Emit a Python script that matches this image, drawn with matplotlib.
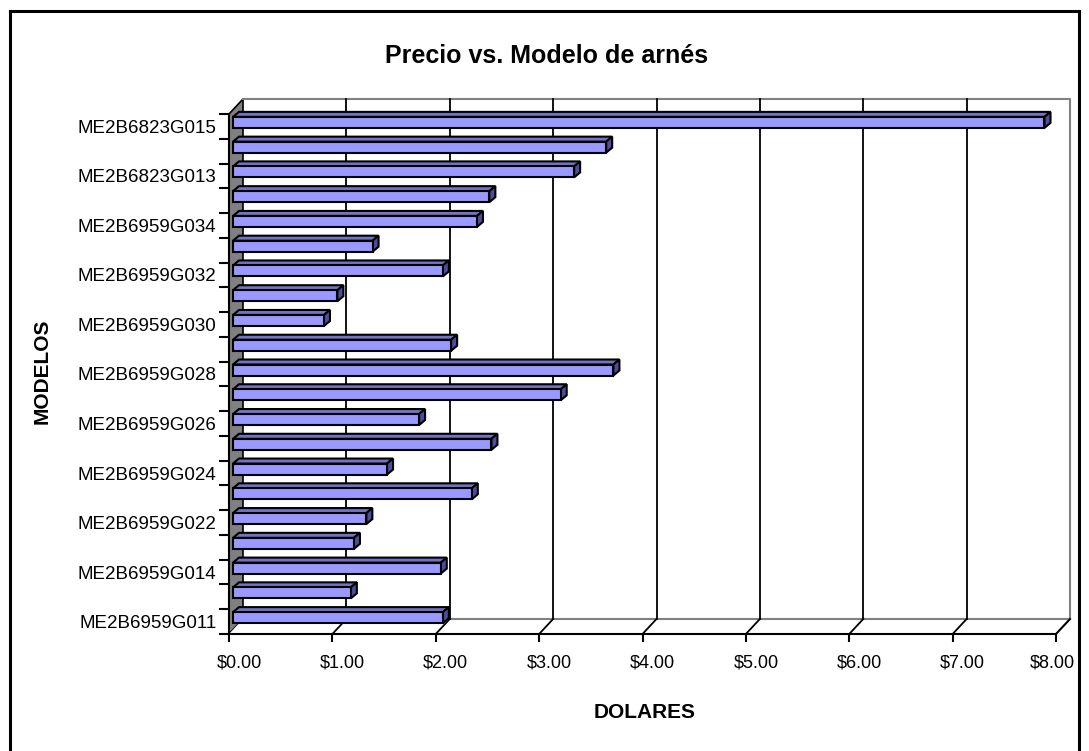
import matplotlib
matplotlib.use("Agg")
import matplotlib.pyplot as plt
from matplotlib.patches import Rectangle, Polygon
from matplotlib.lines import Line2D
from matplotlib.transforms import ScaledTranslation

# ---------------- data ----------------
models = ["ME2B6959G011", "ME2B6959G013", "ME2B6959G014", "ME2B6959G021",
          "ME2B6959G022", "ME2B6959G023", "ME2B6959G024", "ME2B6959G025",
          "ME2B6959G026", "ME2B6959G027", "ME2B6959G028", "ME2B6959G029",
          "ME2B6959G030", "ME2B6959G031", "ME2B6959G032", "ME2B6959G033",
          "ME2B6959G034", "ME2B6823G012", "ME2B6823G013", "ME2B6823G014",
          "ME2B6823G015"]
prices = [2.03, 1.14, 2.01, 1.17, 1.29, 2.31, 1.49, 2.50, 1.80, 3.17, 3.68,
          2.11, 0.88, 1.01, 2.03, 1.35, 2.36, 2.48, 3.30, 3.61, 7.85]
xticks = [0, 1, 2, 3, 4, 5, 6, 7, 8]
xticklabels = ["$0.00", "$1.00", "$2.00", "$3.00", "$4.00", "$5.00",
               "$6.00", "$7.00", "$8.00"]
title = "Precio vs. Modelo de arnés"
xlabel = "DOLARES"
ylabel = "MODELOS"

# ---------------- layout ----------------
W, H, DPI = 1089, 751, 100
plt.rcParams['font.family'] = ['Liberation Sans', 'DejaVu Sans']
fig = plt.figure(figsize=(W / DPI, H / DPI), dpi=DPI)

L, R, B, T = 229, 1056, 634, 114   # front plane in pixels (from top)
ax = fig.add_axes([L / W, 1 - B / H, (R - L) / W, (B - T) / H])
n = len(models)
xmin, xmax = 0, 8
ymin, ymax = -0.5, n - 0.5
ax.set_xlim(xmin, xmax)
ax.set_ylim(ymin, ymax)
for s in ax.spines.values():
    s.set_visible(False)
ax.patch.set_visible(False)

sx = (R - L) / (xmax - xmin)   # px per data unit
sy = (B - T) / (ymax - ymin)
DX, DY = 14 / sx, 15 / sy      # wall depth in data units

gray = "#808080"
# left wall
ax.add_patch(Polygon([(0, ymin), (0, ymax), (DX, ymax + DY), (DX, ymin + DY)],
                     closed=True, facecolor=gray, edgecolor="black", lw=1.2,
                     clip_on=False, zorder=1))
# floor
ax.add_patch(Polygon([(0, ymin), (xmax, ymin), (xmax + DX, ymin + DY), (DX, ymin + DY)],
                     closed=True, facecolor="white", edgecolor="none",
                     clip_on=False, zorder=1))
ax.add_line(Line2D([DX, xmax + DX], [ymin + DY, ymin + DY], color=gray, lw=1.5,
                   clip_on=False, zorder=1.5))
ax.add_line(Line2D([xmax, xmax + DX], [ymin, ymin + DY], color=gray, lw=1.5,
                   clip_on=False, zorder=1.5))
# back wall border (top + right)
ax.add_line(Line2D([DX, xmax + DX, xmax + DX], [ymax + DY, ymax + DY, ymin + DY],
                   color=gray, lw=1.5, clip_on=False, zorder=1.5))
# gridlines on back wall + floor lines
for xv in xticks[1:-1]:
    ax.add_line(Line2D([xv + DX, xv + DX], [ymin + DY, ymax + DY], color="black",
                       lw=1.3, clip_on=False, zorder=1.6))
for xv in xticks[1:]:
    ax.add_line(Line2D([xv, xv + DX], [ymin, ymin + DY], color="black",
                       lw=1.3, clip_on=False, zorder=1.6))
# front axis lines
ax.add_line(Line2D([xmin, xmax], [ymin, ymin], color="black", lw=1.5,
                   clip_on=False, zorder=5))
ax.add_line(Line2D([xmin, xmin], [ymin, ymax], color="black", lw=1.5,
                   clip_on=False, zorder=5))

# bars (pseudo 3D)
ox, oy = 4 / sx, 4.0 / sy
bdx, bdy = 6 / sx, 5.0 / sy
h = 11 / sy
front_c, top_c, side_c = "#9999FF", "#7373C6", "#4D4D99"
for i, v in enumerate(prices):
    yb = i - h / 2 + oy
    yt = i + h / 2 + oy
    ax.add_patch(Polygon([(ox, yt), (ox + v, yt), (ox + v + bdx, yt + bdy), (ox + bdx, yt + bdy)],
                         closed=True, facecolor=top_c, edgecolor="black", lw=1.5,
                         clip_on=False, zorder=3, joinstyle="miter"))
    ax.add_patch(Polygon([(ox + v, yb), (ox + v + bdx, yb + bdy), (ox + v + bdx, yt + bdy), (ox + v, yt)],
                         closed=True, facecolor=side_c, edgecolor="black", lw=1.5,
                         clip_on=False, zorder=3, joinstyle="miter"))
    ax.add_patch(Rectangle((ox, yb), v, h, facecolor=front_c, edgecolor="black",
                           lw=1.5, clip_on=False, zorder=4))

# ticks
ax.set_xticks(xticks)
ax.set_xticklabels(xticklabels, fontsize=13)
ax.tick_params(axis="x", direction="out", length=6, width=1.5, pad=9)
# labels sit between front and back planes (last one kept inside the frame)
for k, lab in enumerate(ax.get_xticklabels()):
    shift = 10 if k < len(xticks) - 1 else -4
    lab.set_transform(lab.get_transform() + ScaledTranslation(shift / DPI, 0, fig.dpi_scale_trans))
ax.set_yticks(range(0, n, 2))
ax.set_yticklabels(models[::2], fontsize=13.5)
ax.tick_params(axis="y", which="major", length=0, pad=9)
ax.set_yticks([k - 0.5 for k in range(n + 1)], minor=True)
ax.tick_params(axis="y", which="minor", direction="out", length=7, width=1.5)

# texts
fig.text(547 / W, 1 - 56 / H, title, fontsize=18, fontweight="bold",
         ha="center", va="center")
fig.text(645 / W, 1 - 713 / H, xlabel, fontsize=15, fontweight="bold",
         ha="center", va="center")
fig.text(42 / W, 1 - 371 / H, ylabel, fontsize=15, fontweight="bold",
         ha="center", va="center", rotation=90)

# outer frame
for xs, ys in [([10, 10], [11, 760]), ([10, 1079], [11, 11]), ([1079, 1079], [11, 760])]:
    fig.add_artist(Line2D([x / W for x in xs], [1 - y / H for y in ys],
                          transform=fig.transFigure, color="black", lw=2.2))

fig.savefig("out.png", dpi=DPI)
